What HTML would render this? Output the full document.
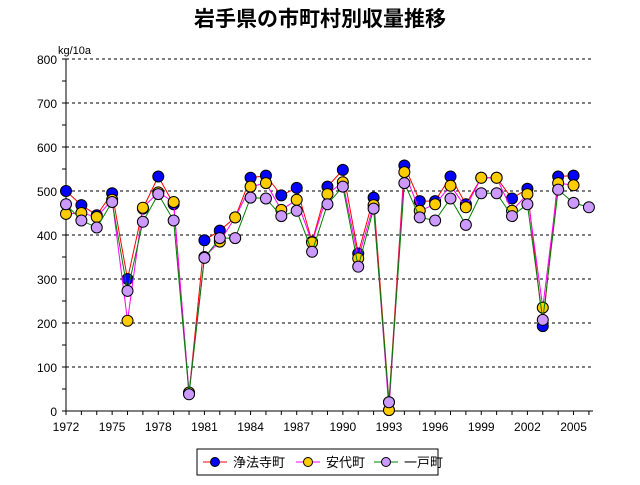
<!DOCTYPE html>
<html><head><meta charset="utf-8"><style>
body{margin:0;background:#fff;width:640px;height:485px;overflow:hidden}
svg{display:block;font-family:"Liberation Sans","Noto Sans CJK JP",sans-serif}
</style></head><body>
<svg id="s" width="640" height="485" xmlns="http://www.w3.org/2000/svg">
<text x="320" y="26" text-anchor="middle" font-size="21" font-weight="bold" font-family="'Liberation Sans','Noto Sans CJK JP',sans-serif">岩手県の市町村別収量推移</text>
<text x="58" y="54" font-size="11">kg/10a</text>
<g id="g"></g>
<rect x="197" y="449" width="241" height="26" fill="#fff" stroke="#000"/>
<line x1="203" y1="462" x2="227" y2="462" stroke="red"/><circle cx="215" cy="462" r="4.5" fill="#0000ff" stroke="#000"/>
<text x="233" y="467" font-size="13">浄法寺町</text>
<line x1="296" y1="462" x2="320" y2="462" stroke="#ff00ff"/><circle cx="308" cy="462" r="4.5" fill="#ffcc00" stroke="#000"/>
<text x="326" y="467" font-size="13">安代町</text>
<line x1="374" y1="462" x2="398" y2="462" stroke="green"/><circle cx="386" cy="462" r="4.5" fill="#cc99ff" stroke="#000"/>
<text x="404" y="467" font-size="13">一戸町</text>
</svg>
<script>
const g=document.getElementById('g');let h='';
const X=y=>66+(y-1972)*15.38, Y=v=>411-v*0.44;
for(let v=100;v<=800;v+=100)h+=`<line x1="66" x2="593" y1="${Y(v)}" y2="${Y(v)}" stroke="#000" stroke-dasharray="3,3"/>`;
for(let v=0;v<=800;v+=100)h+=`<text x="57" y="${Y(v)+5}" font-size="12" text-anchor="end">${v}</text>`;
for(let v=0;v<=800;v+=50)h+=`<line x1="62" x2="66" y1="${Y(v)}" y2="${Y(v)}" stroke="#000"/>`;
h+=`<line x1="66" x2="66" y1="59" y2="411" stroke="#000"/><line x1="66" x2="593" y1="411" y2="411" stroke="#000"/>`;
for(let y=1972;y<=2006;y++)h+=`<line x1="${X(y)}" x2="${X(y)}" y1="411" y2="415" stroke="#000"/>`;
for(let y=1972;y<=2005;y+=3)h+=`<text x="${X(y)}" y="431" font-size="12" text-anchor="middle">${y}</text>`;
const B=[500,468,445,495,300,460,533,470,40,388,410,440,530,535,490,507,385,510,548,358,485,20,558,477,477,533,470,530,530,483,505,193,533,535];
const Yl=[448,450,441,480,205,462,497,475,42,350,385,440,510,518,457,480,383,493,520,347,468,2,543,455,470,512,463,530,530,455,493,235,518,513];
const P=[470,433,417,475,273,430,493,433,38,348,393,393,485,483,443,455,362,470,510,328,460,20,518,440,433,483,423,495,495,443,470,207,503,473,463];
function ser(d,lc,fc){let pts=d.map((v,i)=>X(1972+i)+','+Y(v)).join(' ');
let s=`<polyline points="${pts}" fill="none" stroke="${lc}"/>`;
d.forEach((v,i)=>s+=`<circle cx="${X(1972+i)}" cy="${Y(v)}" r="5.5" fill="${fc}" stroke="#000"/>`);return s;}
h+=ser(B,'red','#0000ff')+ser(Yl,'#ff00ff','#ffcc00')+ser(P,'green','#cc99ff');
g.innerHTML=h;
</script>
</body></html>
